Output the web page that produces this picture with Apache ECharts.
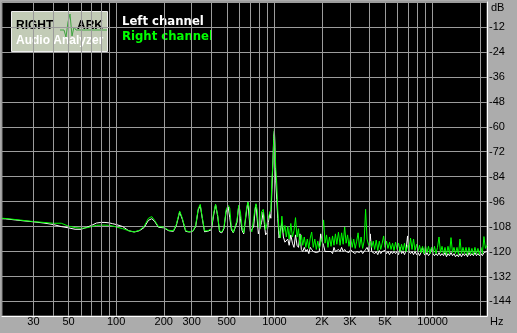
<!DOCTYPE html>
<html><head><meta charset="utf-8">
<script src="https://cdn.jsdelivr.net/npm/echarts@6/dist/echarts.min.js"></script>
<style>html,body{margin:0;padding:0;background:#acacac;overflow:hidden}#c{width:517px;height:333px}</style>
</head><body><div id="c"></div>
<script>
// ---- data (Hz, dB) ----
const freqs = [
  19,20,23,25,30,35,40,45,50,55,
  60,65,70,75,80,85,90,95,100,110,
  120,130,140,150,160,168,175,185,200,215,
  230,240,252,262,275,290,305,318,330,340,
  350,362,380,400,412,425,438,450,465,480,
  495,510,522,535,550,565,580,595,610,625,
  640,655,668,680,692,705,720,740,755,765,
  778,792,810,830,850,865,880,900,915,935,
  950,965,980,990,1000,1008,1020,1035,1050,1070,
  1090,
  1115,1140,1165,1190,1215,1240,1270,1300,1330,1360,
  1390,1420,1450,1480,1510,1545,1580,1615,1650,1685,
  1720,1760,1800,1840,1880,1920,1960,2000,2045,2090,
  2135,2180,2230,2280,2330,2380,2430,2480,2540,2600,
  2660,2720,2780,2840,2900,2960,3030,3100,3170,3240,
  3310,3380,3450,3530,3610,3690,3770,3850,3940,4030,
  4120,4210,4300,4400,4500,4600,4700,4800,4900,5000,
  5110,5220,5340,5460,5580,5700,5830,5960,6090,6220,
  6360,6500,6640,6790,6940,7090,7250,7410,7570,7740,
  7910,8080,8260,8440,8630,8820,9010,9210,9410,9620,
  9830,10050,10270,10500,10730,10970,11210,11460,11710,11970,
  12230,12500,12780,13060,13350,13640,13940,14250,14560,14880,
  15210,15550,15890,16240,16600,16960,17330,17710,18100,18500,
  18910,19330,19750,20190,20630,21080,21540,22000
];
const leftDb = [
  -104.2,-104.3,-104.8,-105.1,-105.7,-106.3,-107.0,-108.0,-108.6,-109.3,
  -109.3,-108.4,-107.4,-106.3,-106.0,-106.0,-106.2,-106.6,-107.0,-108.0,
  -110.0,-110.6,-110.0,-108.5,-105.0,-104.2,-105.5,-108.3,-108.6,-110.0,
  -110.3,-107.5,-101.0,-104.5,-110.3,-110.6,-110.3,-108.0,-100.0,-97.8,
  -104.0,-110.5,-110.2,-109.5,-103.0,-97.5,-103.0,-110.5,-111.0,-109.0,
  -101.0,-98.5,-103.5,-109.5,-111.0,-110.6,-106.0,-98.0,-104.0,-110.0,
  -111.5,-112.0,-100.0,-96.3,-103.0,-110.5,-111.0,-108.0,-100.0,-97.5,
  -104.0,-111.5,-112.0,-106.0,-101.0,-107.0,-112.0,-111.0,-106.0,-102.0,
  -104.0,-90.0,-76.0,-64.5,-62.0,-70.0,-86.0,-95.0,-104.0,-113.5,
  -114.0,
  -106,-113,-115.5,-116,-114,-117,-112,-116,-118,-112,
  -117,-118,-111.5,-119,-120,-118,-120,-119,-121,-118,
  -119,-120,-120,-120.5,-120,-120,-111.5,-115,-117,-120,
  -119.5,-120,-120.5,-120,-121,-118,-120,-119.5,-119,-120,
  -118,-120,-119,-120,-119.5,-120.5,-119,-120,-119.5,-121,
  -120,-119.5,-120.5,-119.5,-121,-120,-119,-118,-120,-111.5,
  -120,-119.5,-121,-120,-121.5,-119.5,-121,-120,-120.5,-119.5,
  -121,-120,-121.5,-120,-121,-120,-121,-120,-121.5,-118,
  -121,-120,-121.5,-119.5,-112.5,-120,-121,-120,-121.5,-120,
  -121.5,-120.5,-122,-120.5,-118,-121,-122,-120.5,-122,-121,
  -118.5,-121,-122,-121,-122,-120.5,-122,-121,-122,-120.5,
  -122.5,-121,-122,-120.5,-122,-121,-122.5,-121.5,-122.5,-121,
  -122.5,-121,-122,-121,-122.5,-120.5,-122,-121,-122,-120.5,
  -122,-121,-122,-121,-122,-120.5,-121,-120
];
const rightDb = [
  -104.0,-104.1,-104.6,-104.9,-105.6,-106.0,-106.4,-106.4,-107.8,-108.5,
  -108.8,-108.6,-108.0,-107.4,-107.3,-107.3,-107.4,-107.7,-108.2,-109.0,
  -110.0,-110.6,-109.8,-108.0,-104.0,-103.2,-105.0,-108.0,-108.3,-109.8,
  -110.0,-107.0,-100.5,-104.0,-110.0,-110.5,-110.2,-107.5,-99.5,-97.3,
  -103.5,-110.0,-110.0,-109.0,-102.0,-97.3,-102.5,-110.0,-110.6,-108.5,
  -100.0,-97.8,-99.0,-108.5,-110.8,-110.3,-105.0,-97.8,-101.0,-108.5,
  -111.0,-111.5,-99.0,-96.2,-98.5,-109.0,-110.5,-104.0,-99.0,-97.0,
  -100.0,-108.0,-109.0,-101.0,-99.7,-104.0,-109.5,-110.0,-104.0,-101.0,
  -100.0,-85.0,-77.0,-66.0,-61.0,-60.5,-80.0,-87.5,-100.0,-110.0,
  -113.5,
  -103,-111,-107.5,-113,-108,-114,-106.5,-113,-110,-103.7,
  -113,-109,-117,-112,-117,-113,-118,-114,-118.5,-113.5,
  -110.6,-118,-114,-119,-115,-118.5,-116,-113,-104.8,-116,
  -112,-118,-113,-117.5,-112.5,-117,-111.5,-116.5,-110.7,-117,
  -111,-116.5,-108.2,-116,-112,-117.5,-113,-118,-114,-118.5,
  -115,-111,-118,-113,-118.5,-115,-99.7,-114,-117,-115,
  -118,-115,-119,-114.5,-119.5,-115,-119,-116,-112.5,-118,
  -115,-118.5,-115.5,-119,-116,-119.5,-115.5,-119,-116,-120,
  -116.5,-119.5,-116,-120,-117,-119.5,-113.5,-119,-114,-119.5,
  -116.5,-120,-117,-120.5,-117.5,-121,-117,-120.5,-117.5,-121,
  -118,-120.5,-117.5,-121,-118,-113,-120.5,-117.5,-121,-118,
  -121.5,-117.5,-121,-113.3,-120.5,-118,-121,-118,-121.5,-114,
  -121,-118,-121,-118,-121.5,-118,-121,-118.5,-121.5,-118,
  -121,-118.5,-121.5,-118,-121,-112.8,-118.5,-117
];
const gridFreqs = [30,40,50,60,70,80,90,100,200,300,400,500,600,700,800,900,
  1000,2000,3000,4000,5000,6000,7000,8000,9000,10000,20000];
const freqTickValues = [30,50,100,200,300,500,1000,2000,3000,5000,10000];
const freqTickLabels = ['30','50','100','200','300','500','1000','2K','3K','5K','10000'];
const dbTicks = [-144,-132,-120,-108,-96,-84,-72,-60,-48,-36,-24,-12];
const seriesNames = ['Left channel','Right channel'];

const FONT = '"Liberation Sans", Arial, sans-serif';
const chart = echarts.init(document.getElementById('c'), null, {renderer:'canvas'});
const zip = (xs, ys) => xs.map((x, i) => [x, ys[i]]);

chart.setOption({
  animation: false,
  backgroundColor: '#acacac',
  grid: {left: 2, right: 30, top: 2, bottom: 17, show: true, backgroundColor: '#000',
         borderColor: '#8a8a8a', borderWidth: 1},
  legend: {
    orient: 'vertical', left: 117, top: 15, padding: 0, itemGap: 1,
    itemWidth: 0, itemHeight: 0, selectedMode: false,
    textStyle: {fontFamily: '"DejaVu Sans", sans-serif', fontWeight: 'bold', fontSize: 11.7, lineHeight: 14},
    data: [
      {name: seriesNames[0], icon: 'rect', textStyle: {color: '#ffffff'}},
      {name: seriesNames[1], icon: 'rect', textStyle: {color: '#00ff00'}}
    ]
  },
  xAxis: {
    type: 'log', logBase: 10, min: 19, max: 22050,
    axisLine: {show: true, onZero: false, lineStyle: {color: '#ffffff', width: 1}},
    axisTick: {show: false}, axisLabel: {show: false},
    splitLine: {show: false}, minorSplitLine: {show: false}
  },
  yAxis: {
    type: 'value', position: 'right', min: -151, max: 0,
    axisLine: {show: true, lineStyle: {color: '#ffffff', width: 1}},
    axisTick: {show: false, customValues: dbTicks.concat([0])},
    axisLabel: {customValues: dbTicks, color: '#000', fontSize: 11, fontFamily: FONT, margin: 2, align: 'left'},
    splitLine: {show: true, lineStyle: {color: '#9c9c9c', width: 1}}
  },
  graphic: [
    {type: 'group', left: 11, top: 11, children: [
      {type: 'rect', shape: {x: 0.5, y: 0.5, width: 96, height: 40},
       style: {fill: '#c2cbb6', stroke: '#eeeeee', lineWidth: 1}},
      {type: 'polyline', shape: {points: [[49,19],[53,19],[55,26],[57,11],[59,3],[61,25],[63,16],[65,19],[96,19]]},
       style: {stroke: '#3fa43f', lineWidth: 1, fill: null}},
      {type: 'text', x: 5, y: 15, style: {text: 'RIGHT', font: 'bold 12px ' + FONT, fill: '#000', verticalAlign: 'middle'}},
      {type: 'text', x: 66, y: 15, style: {text: 'ARK', font: 'bold 12px ' + FONT, fill: '#000', verticalAlign: 'middle'}},
      {type: 'text', x: 5, y: 30, style: {text: 'Audio Analyzer', font: 'bold 12px ' + FONT, fill: '#ffffff', verticalAlign: 'middle'}}
    ]},
    {type: 'text', left: 491, top: 2, style: {text: 'dB', font: '11px ' + FONT, fill: '#000'}},
    {type: 'text', left: 490, top: 316, style: {text: 'Hz', font: '11px ' + FONT, fill: '#000'}}
  ],
  series: [
    {
      name: 'grid', type: 'line', data: [], clip: false, silent: true,
      markLine: {
        silent: true, symbol: 'none', animation: false,
        lineStyle: {color: '#9c9c9c', type: 'solid', width: 1},
        data: gridFreqs.map(f => {
          const i = freqTickValues.indexOf(f);
          return {xAxis: f, label: i >= 0
            ? {show: true, position: 'start', distance: 0, formatter: freqTickLabels[i],
               color: '#000', fontSize: 11, fontFamily: FONT}
            : {show: false}};
        })
      }
    },
    {name: seriesNames[0], type: 'line', data: zip(freqs, leftDb), showSymbol: false, symbol: 'none',
     color: '#ffffff', lineStyle: {color: '#ffffff', width: 1}},
    {name: seriesNames[1], type: 'line', data: zip(freqs, rightDb), showSymbol: false, symbol: 'none',
     color: '#00ff00', lineStyle: {color: '#00ff00', width: 1}}
  ]
});
</script></body></html>
